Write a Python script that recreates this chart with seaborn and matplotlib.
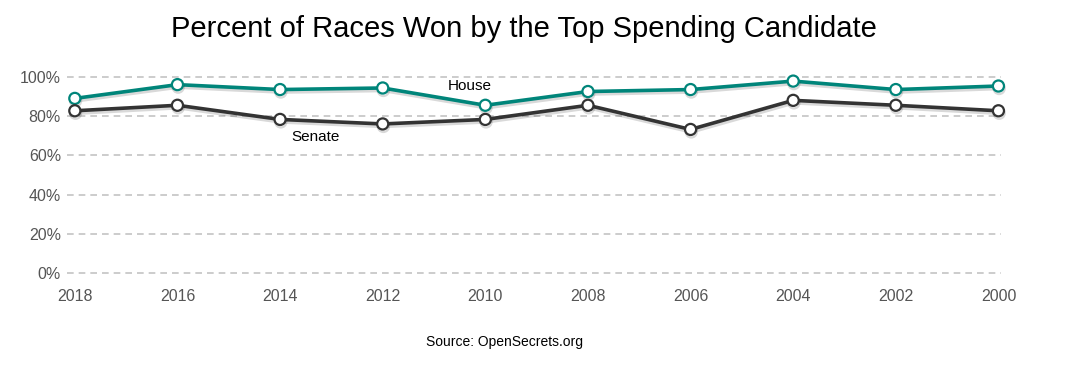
import numpy as np
import pandas as pd
import matplotlib
matplotlib.use("Agg")
import matplotlib.pyplot as plt
import matplotlib.patheffects as pe
import seaborn as sns

years = [2018, 2016, 2014, 2012, 2010, 2008, 2006, 2004, 2002, 2000]
house = [89, 96, 93.5, 94.3, 85.5, 92.5, 93.5, 97.8, 93.5, 95.3]
senate = [82.7, 85.5, 78.3, 76, 78.3, 85.5, 73.2, 88, 85.5, 82.7]
y_ticks = [0, 20, 40, 60, 80, 100]

df = pd.DataFrame({
    "year": years * 2,
    "pct": house + senate,
    "chamber": ["House"] * len(years) + ["Senate"] * len(years),
})

sns.set_style("white")
plt.rcParams["font.family"] = ["Liberation Sans", "DejaVu Sans"]

fig = plt.figure(figsize=(10.69, 3.82), dpi=100)
ax = fig.add_axes([0.070, 0.2845, 0.864, 0.5145])

palette = {"House": "#00857a", "Senate": "#333333"}
sns.lineplot(data=df, x="year", y="pct", hue="chamber", palette=palette,
             marker="o", markersize=8, markerfacecolor="white",
             markeredgewidth=1.6, linewidth=2.6, legend=False, ax=ax,
             clip_on=False, zorder=3)

for line in ax.lines:
    line.set_markeredgecolor(line.get_color())
    line.set_path_effects([pe.SimpleLineShadow(offset=(0.5, -1.8), alpha=0.15),
                           pe.Normal()])

ax.set_xlim(2018, 2000)
ax.set_ylim(0, 100)
ax.set_xticks(years)
ax.set_xticklabels([str(y) for y in years])
ax.set_yticks(y_ticks)
ax.set_yticklabels([f"{t}%" for t in y_ticks])
for t in y_ticks:
    ax.axhline(t, xmin=-0.008, xmax=1.003, color="#c4c4c4", linestyle=(0, (4, 3)),
               linewidth=1.2, zorder=1, clip_on=False)
ax.tick_params(axis="both", labelsize=11.5, colors="#555555", length=0)
ax.tick_params(axis="x", pad=11)
ax.tick_params(axis="y", pad=10)
for s in ax.spines.values():
    s.set_visible(False)
ax.set_xlabel("")
ax.set_ylabel("")

ax.text(2010.3, 95.3, "House", ha="center", va="center", fontsize=11, color="black", zorder=4)
ax.text(2013.3, 69.3, "Senate", ha="center", va="center", fontsize=11, color="black", zorder=4,
        bbox=dict(facecolor="white", edgecolor="none", pad=2))

fig.text(0.49, 0.925, "Percent of Races Won by the Top Spending Candidate",
         ha="center", va="center", fontsize=21, color="black")
fig.text(0.472, 0.105, "Source: OpenSecrets.org", ha="center", va="center",
         fontsize=10, color="black")

fig.savefig("out.png", dpi=100)
